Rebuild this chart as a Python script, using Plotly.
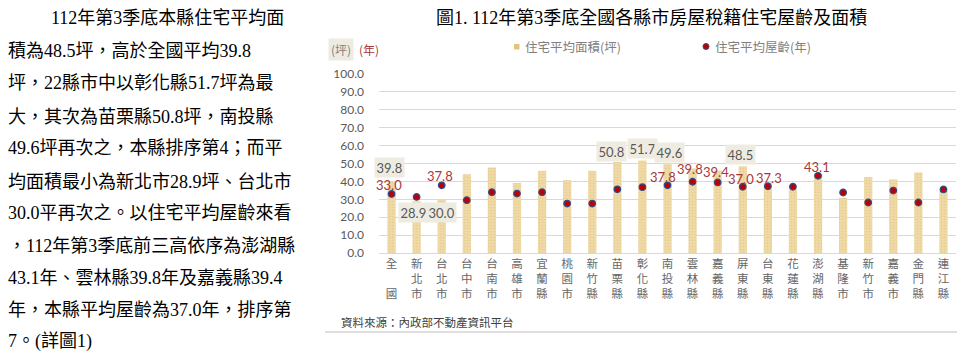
import plotly.graph_objects as go

# ---------------- data ----------------
categories = ['全國', '新北市', '台北市', '台中市', '台南市', '高雄市', '宜蘭縣', '桃園市',
              '新竹縣', '苗栗縣', '彰化縣', '南投縣', '雲林縣', '嘉義縣', '屏東縣', '台東縣',
              '花蓮縣', '澎湖縣', '基隆市', '新竹市', '嘉義市', '金門縣', '連江縣']
area = [39.8, 28.9, 30.0, 44.0, 47.8, 39.1, 45.9, 40.7, 45.9, 50.8, 51.7, 49.6,
        47.2, 46.0, 48.5, 39.2, 35.5, 44.0, 30.8, 42.4, 41.1, 45.0, 34.7]
age = [33.0, 31.3, 37.8, 29.5, 34.0, 33.2, 34.0, 27.6, 27.6, 35.6, 36.8, 37.8,
       39.8, 39.4, 37.0, 37.3, 37.0, 43.1, 33.8, 28.2, 34.9, 28.2, 35.5]
y_ticks = [0, 10, 20, 30, 40, 50, 60, 70, 80, 90, 100]

title_text = '圖1. 112年第3季底全國各縣市房屋稅籍住宅屋齡及面積'
legend_area = '住宅平均面積(坪)'
legend_age = '住宅平均屋齡(年)'
source_text = '資料來源：內政部不動產資訊平台'
body_lines = [
    '112年第3季底本縣住宅平均面',
    '積為48.5坪，高於全國平均39.8',
    '坪，22縣市中以彰化縣51.7坪為最',
    '大，其次為苗栗縣50.8坪，南投縣',
    '49.6坪再次之，本縣排序第4；而平',
    '均面積最小為新北市28.9坪、台北市',
    '30.0平再次之。以住宅平均屋齡來看',
    '，112年第3季底前三高依序為澎湖縣',
    '43.1年、雲林縣39.8年及嘉義縣39.4',
    '年，本縣平均屋齡為37.0年，排序第',
    '7。(詳圖1)',
]

# labelled points: index -> (xshift, yshift) in px
area_label_style = {0: (-2, 14), 1: (-3, -11), 2: (0, -13), 9: (-6, 11),
                    10: (0, 12), 11: (1.5, 12), 14: (-2, 12)}
age_label_style = {0: (-3, 9), 2: (-2, 9.5), 11: (-5, 8), 12: (-2.5, 12.5),
                   13: (-1.5, 10.5), 14: (-1.5, 8), 15: (1, 8.5), 17: (-1, 8.5)}

# ---------------- layout geometry ----------------
W, H = 963, 356
L, R, T, B = 379, 7, 74, 103
PW, PH = W - L - R, H - T - B


def px(x):
    return (x - L) / PW


def py(y):
    return (H - B - y) / PH


CJK = 'Noto Sans CJK TC'
NUM = 'Lato, Noto Sans CJK TC'
SERIF = 'Liberation Serif, Noto Sans CJK TC'
GREY = '#595959'
RED = '#a5393b'
BOXBG = '#eeece1'

tick_text = []
for c in categories:
    if len(c) == 2:
        tick_text.append(c[0] + '<br> <br>' + c[1])
    else:
        tick_text.append('<br>'.join(list(c)))

fig = go.Figure()
fig.add_trace(go.Bar(
    x=categories, y=area, name=legend_area, showlegend=False,
    marker=dict(color='#ecd49c', line=dict(width=0),
                pattern=dict(shape='.', fgcolor='#dcbf85', bgcolor='#efd9a4',
                             size=3, solidity=0.25)),
))
fig.add_trace(go.Scatter(
    x=categories, y=age, name=legend_age, mode='markers', showlegend=False,
    marker=dict(size=6.5, color='#c00000', line=dict(color='#2f4b8c', width=1.3)),
))

ann = []
for i, (dx, dy) in area_label_style.items():
    ann.append(dict(x=categories[i], y=area[i], xref='x', yref='y', text=f'{area[i]:.1f}',
                    showarrow=False, xshift=dx, yshift=dy, bgcolor=BOXBG, borderpad=1.5,
                    font=dict(family=NUM, size=13, color=GREY)))
for i, (dx, dy) in age_label_style.items():
    ann.append(dict(x=categories[i], y=age[i], xref='x', yref='y', text=f'{age[i]:.1f}',
                    showarrow=False, xshift=dx, yshift=dy,
                    font=dict(family=NUM, size=13, color=RED)))

# title
ann.append(dict(x=px(651), y=py(18), xref='paper', yref='paper', text=title_text,
                showarrow=False, xanchor='center', yanchor='middle',
                font=dict(family=SERIF, size=18, color='#000000')))
# unit labels
ann.append(dict(x=px(340.5), y=py(49), xref='paper', yref='paper', text='(坪)',
                showarrow=False, xanchor='center', yanchor='middle', bgcolor=BOXBG, borderpad=2,
                font=dict(family=CJK, size=12, color='#7f7f7f')))
ann.append(dict(x=px(369), y=py(49), xref='paper', yref='paper', text='(年)',
                showarrow=False, xanchor='center', yanchor='middle',
                font=dict(family=CJK, size=12, color=RED)))
# legend texts
ann.append(dict(x=px(523), y=py(46.5), xref='paper', yref='paper', text=legend_area,
                showarrow=False, xanchor='left', yanchor='middle',
                font=dict(family=CJK, size=12.5, color='#7f7f7f')))
ann.append(dict(x=px(713), y=py(46.5), xref='paper', yref='paper', text=legend_age,
                showarrow=False, xanchor='left', yanchor='middle',
                font=dict(family=CJK, size=12.5, color='#7f7f7f')))
# source
ann.append(dict(x=px(339), y=py(321.5), xref='paper', yref='paper', text=source_text,
                showarrow=False, xanchor='left', yanchor='middle',
                font=dict(family=CJK, size=11.5, color='#404040')))
# body text
line_y = [18.3, 51, 83.3, 116.7, 148.3, 181.7, 213.3, 246, 278.3, 310, 341.7]
for k, (t, yy) in enumerate(zip(body_lines, line_y)):
    ann.append(dict(x=px(50 if k == 0 else 7), y=py(yy), xref='paper', yref='paper', text=t,
                    showarrow=False, xanchor='left', yanchor='middle', borderpad=0,
                    font=dict(family=SERIF, size=18, color='#000000')))

shapes = [
    dict(type='rect', xref='paper', yref='paper', x0=px(514), x1=px(519.5), y0=py(44), y1=py(49.5),
         fillcolor='#e2c47f', line=dict(width=0)),
    dict(type='circle', xref='paper', yref='paper', x0=px(703), x1=px(709), y0=py(43.5), y1=py(49.5),
         fillcolor='#c00000', line=dict(color='#2f4b8c', width=1)),
    dict(type='line', xref='paper', yref='paper', x0=px(325), x1=px(957), y0=py(332), y1=py(332),
         line=dict(color='#bfbfbf', width=1)),
]

fig.update_layout(
    width=W, height=H, margin=dict(l=L, r=R, t=T, b=B, pad=0),
    paper_bgcolor='white', plot_bgcolor='white',
    bargap=0.67, showlegend=False,
    annotations=ann, shapes=shapes,
    xaxis=dict(tickmode='array', tickvals=categories, ticktext=tick_text,
               range=[-0.5, len(categories) - 0.5], autorange=False, automargin=False,
               tickfont=dict(family=CJK, size=11.5, color='#666666'),
               showgrid=False, showline=True, linecolor='#d9d9d9', linewidth=1,
               ticks='', zeroline=False, fixedrange=True),
    yaxis=dict(range=[0, 100], tickvals=y_ticks, tickformat='.1f', automargin=False,
               tickfont=dict(family=NUM, size=12, color=GREY),
               showgrid=True, gridcolor='#d9d9d9', gridwidth=1,
               zeroline=False, showline=False, ticks='', ticklabelstandoff=14,
               fixedrange=True),
)

fig.write_html('out.html', config={'displayModeBar': False},
               post_script="document.body.style.margin='0';document.body.style.overflow='hidden';")
